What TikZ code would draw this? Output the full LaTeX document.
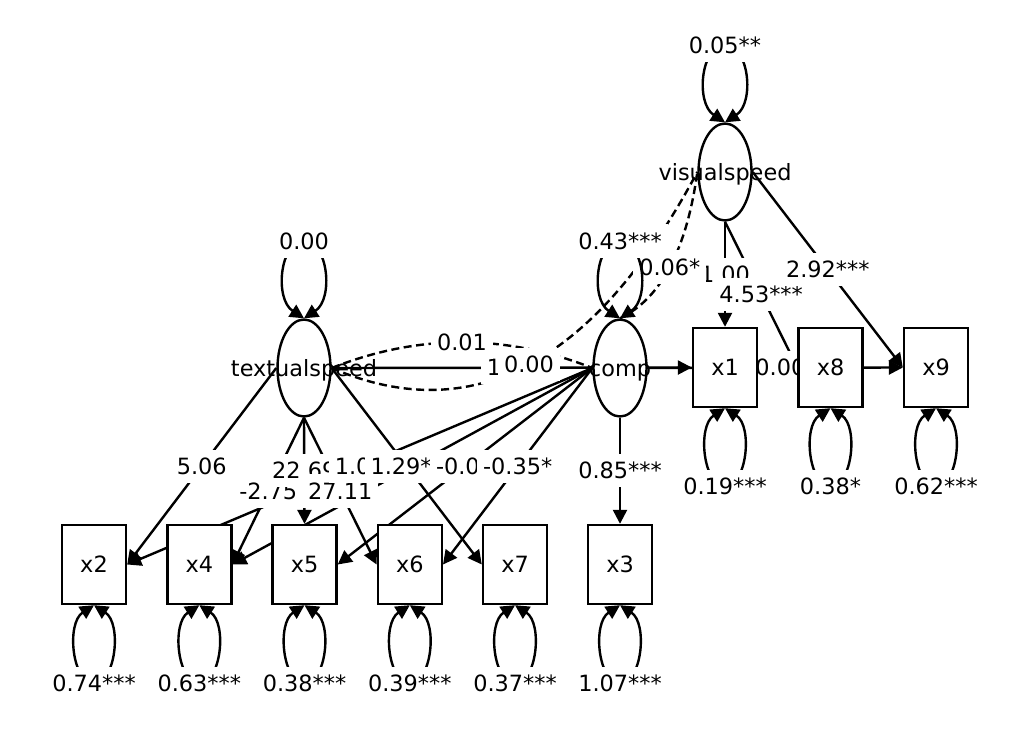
\documentclass[tikz,border=0pt]{standalone}
\usepackage{fontspec}
\setmainfont{DejaVu Sans}
\usetikzlibrary{arrows.meta,shapes.geometric}
\pgfdeclarelayer{background}
\pgfsetlayers{background,main}
\begin{document}
\begin{tikzpicture}[x=1pt,y=-1pt,
  font=\fontsize{22.4}{26}\selectfont,
  lat/.style={ellipse,draw,fill=white,line width=2.4pt,minimum width=53pt,minimum height=97pt,inner sep=0pt},
  obs/.style={rectangle,draw,fill=white,line width=2.4pt,minimum width=64pt,minimum height=79pt,inner sep=0pt,text height=16.4pt,text depth=0pt},
  nm/.style={inner sep=0pt,text height=16.4pt,text depth=0pt},
  edge/.style={line width=2.4pt,-{Triangle[length=14pt,width=14pt]}},
  cov/.style={line width=2.4pt,dash pattern=on 8pt off 4.5pt},
  lab/.style={fill=white,inner xsep=6pt,inner ysep=8.5pt,text height=16.4pt,text depth=0pt}
]
\useasboundingbox (0,0) rectangle (1024,731);

% nodes
\node[lat] (T) at (304,368) {};
\node[lat] (C) at (620,368) {};
\node[lat] (V) at (725,172) {};
\node[obs] (x1) at (725,367.5) {x1};
\node[obs] (x8) at (830.5,367.5) {x8};
\node[obs] (x9) at (936,367.5) {x9};
\node[obs] (x2) at (94,564.5) {x2};
\node[obs] (x4) at (199.3,564.5) {x4};
\node[obs] (x5) at (304.5,564.5) {x5};
\node[obs] (x6) at (409.8,564.5) {x6};
\node[obs] (x7) at (515,564.5) {x7};
\node[obs] (x3) at (620,564.5) {x3};
\node[nm] (Tt) at (T) {textualspeed};
\node[nm] (Ct) at (C) {comp};
\node[nm] (Vt) at (V) {visualspeed};

\begin{pgfonlayer}{background}
% regressions / loadings
\draw[edge] (T.west) -- (x2.east);
\draw[edge] (T.south) -- (x4.east);
\draw[edge] (T.south) -- (x5.north);
\draw[edge] (T.south) -- (x6.west);
\draw[edge] (T.east) -- (x7.west);
\draw[edge] (C.west) -- (x2.east);
\draw[edge] (C.west) -- (x4.east);
\draw[edge] (C.west) -- (x5.east);
\draw[edge] (C.west) -- (x6.east);
\draw[edge] (C.south) -- (x3.north);
\draw[edge] (T.east) -- (x1.west);
\draw[edge] (V.south) -- (x1.north);
\draw[edge] (V.south) -- (x8.west);
\draw[edge] (V.east) -- (x9.west);
\draw[edge] (C.east) -- (x9.west);
% covariances
\draw[cov] (T.east) .. controls (472.5,428.7) and (595.2,363.3) .. (V.west);
\draw[cov] (T.east) .. controls (418.2,333.7) and (505.8,333.7) .. (C.west);
\draw[cov] (C.north) .. controls (660.5,299) and (686.7,249.9) .. (V.west);
% edge labels
\path (T.west) -- node[lab]{5.06} (x2.east);
\path (T.south) -- node[lab]{-2.75} (x4.east);
\path (T.south) -- node[lab]{22.69} (x5.north);
\path (T.south) -- node[lab]{27.11} (x6.west);
\path (C.west) -- node[lab]{1.00} (x2.east);
\path (T.east) -- node[lab]{1.29**} (x7.west);
\path (C.west) -- node[lab]{-0.04} (x5.east);
\path (C.west) -- node[lab]{-0.35*} (x6.east);
\path (C.south) -- node[lab]{0.85***} (x3.north);
\path (T.east) -- node[lab]{1.00} (x1.west);
\path (T.east) .. controls (472.5,428.7) and (595.2,363.3) .. node[lab]{0.00} (V.west);
\path (T.east) .. controls (418.2,333.7) and (505.8,333.7) .. node[lab]{0.01} (C.west);
\path (V.south) -- node[lab]{1.00} (x1.north);
\path (C.north) .. controls (660.5,299) and (686.7,249.9) .. node[lab]{0.06*} (V.west);
\path (V.south) -- node[lab]{4.53***} (x8.west);
\path (V.east) -- node[lab]{2.92***} (x9.west);
\path (C.east) -- node[lab,pos=0.52]{0.00} (x9.west);
\end{pgfonlayer}

% variance loops on latent variables
\foreach \n/\v in {T/0.00, C/0.43***, V/0.05**}{
  \path (\n.north) ++(0,-77.5) coordinate (l\n);
  \draw[edge] (l\n) .. controls +(-24,0) and +(-30,-19.5) .. (\n.north);
  \draw[edge] (l\n) .. controls +(24,0) and +(30,-19.5) .. (\n.north);
  \node[lab] at (l\n) {\v};
}
% variance loops on observed variables
\foreach \n/\v in {x2/0.74***, x4/0.63***, x5/0.38***, x6/0.39***, x7/0.37***, x3/1.07***, x1/0.19***, x8/0.38*, x9/0.62***}{
  \path (\n.south) ++(0,78) coordinate (l\n);
  \draw[edge] (l\n) .. controls +(-22,0) and +(-28,18) .. (\n.south);
  \draw[edge] (l\n) .. controls +(22,0) and +(28,18) .. (\n.south);
  \node[lab] at (l\n) {\v};
}
\end{tikzpicture}
\end{document}
